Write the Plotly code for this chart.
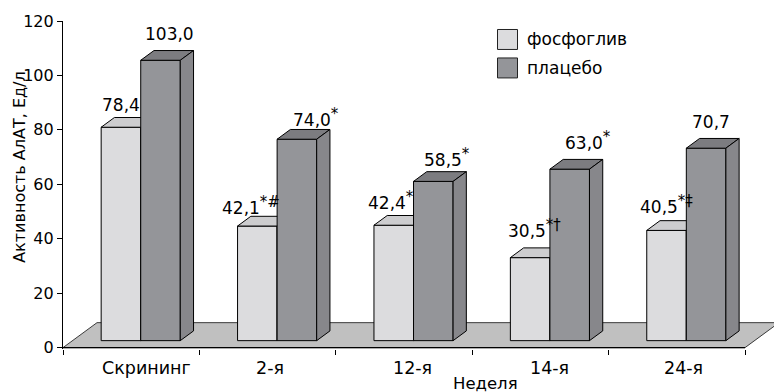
import plotly.graph_objects as go

# ---- data -------------------------------------------------------------
categories = ["Скрининг", "2-я", "12-я", "14-я", "24-я"]
fosfogliv = [78.4, 42.1, 42.4, 30.5, 40.5]
placebo = [103.0, 74.0, 58.5, 63.0, 70.7]
fosfogliv_marks = ["", "*#", "*", "*†", "*‡"]
placebo_marks = ["", "*", "*", "*", ""]
series_names = ["фосфоглив", "плацебо"]
y_ticks = [0, 20, 40, 60, 80, 100, 120]

# ---- styling / 3-D projection ----------------------------------------
FONT = "DejaVu Sans, Arial, sans-serif"
PX_PER_X = 136.4            # pixels per category
PX_PER_Y = 2.725            # pixels per value unit
FLOOR_DX = 34 / PX_PER_X    # full floor depth, x part (axis units)
FLOOR_DY = 25 / PX_PER_Y    # full floor depth, y part (axis units)
Z_FRONT, Z_BACK = 0.28, 0.67  # bar front / back planes as floor-depth fractions
BAR_W = 0.29

LIGHT = dict(front="#dcdcde", top="#cdcdcf", side="#bdbdbf")
DARK = dict(front="#949599", top="#7c7c80", side="#87878b")
FLOOR = "#c0c0c0"

# label nudges in pixels (x, y above the bar's back top edge)
fos_nudge = [(-7, 13), (-13, 11), (-9, 15), (-2, 19), (-7, 16)]
pla_nudge = [(2, 17), (12, 12), (7, 14), (12, 19), (-2, 16)]
cat_nudge = [15, 2, 8, 9, 7]

L, T, B, W, H = 63, 21, 42.6, 774, 392
Y_MIN = -0.5
X_MAX = -0.5 + (W - L) / PX_PER_X


def sx(z):
    return z * FLOOR_DX


def sy(z):
    return z * FLOOR_DY


def faces(x0, x1, v):
    """Front, top and side polygons of one bar of height v."""
    a0, a1 = sx(Z_FRONT), sx(Z_BACK)
    b0, b1 = sy(Z_FRONT), sy(Z_BACK)
    front = ([x0 + a0, x1 + a0, x1 + a0, x0 + a0, x0 + a0],
             [b0, b0, v + b0, v + b0, b0])
    top = ([x0 + a0, x1 + a0, x1 + a1, x0 + a1, x0 + a0],
           [v + b0, v + b0, v + b1, v + b1, v + b0])
    side = ([x1 + a0, x1 + a1, x1 + a1, x1 + a0, x1 + a0],
            [b0, b1, v + b1, v + b0, b0])
    return front, top, side


def join(polys):
    xs, ys = [], []
    for px, py in polys:
        xs += px + [None]
        ys += py + [None]
    return xs, ys


fig = go.Figure()

# floor
n = len(categories)
fig.add_trace(go.Scatter(
    x=[-0.5, n - 0.5, n - 0.5 + FLOOR_DX, -0.5 + FLOOR_DX, -0.5],
    y=[0, 0, FLOOR_DY, FLOOR_DY, 0],
    mode="lines", fill="toself", fillcolor=FLOOR,
    line=dict(color="#3a3a3a", width=1), hoverinfo="skip", showlegend=False))
# x axis line along the floor front edge
fig.add_trace(go.Scatter(x=[-0.5, n - 0.5], y=[0, 0], mode="lines",
                         line=dict(color="black", width=1.2),
                         hoverinfo="skip", showlegend=False))

for values, side_sign, colors in ((fosfogliv, -1, LIGHT), (placebo, 1, DARK)):
    polys = {"front": [], "top": [], "side": []}
    for i, v in enumerate(values):
        x0 = i if side_sign > 0 else i - BAR_W
        f, t, s = faces(x0, x0 + BAR_W, v)
        polys["front"].append(f)
        polys["top"].append(t)
        polys["side"].append(s)
    for key in ("front", "top", "side"):
        xs, ys = join(polys[key])
        fig.add_trace(go.Scatter(
            x=xs, y=ys, mode="lines", fill="toself", fillcolor=colors[key],
            line=dict(color="black", width=1), hoverinfo="skip",
            showlegend=False))

annotations = []


def fmt(v, mark):
    txt = f"{v:.1f}".replace(".", ",")
    if mark:
        txt += f"<sup><span style='font-size:15px'>{mark}</span></sup>"
    return txt


for values, marks, nudge, side_sign in ((fosfogliv, fosfogliv_marks, fos_nudge, -1),
                                        (placebo, placebo_marks, pla_nudge, 1)):
    for i, (v, m) in enumerate(zip(values, marks)):
        x0 = i if side_sign > 0 else i - BAR_W
        xc = x0 + BAR_W / 2 + (sx(Z_FRONT) + sx(Z_BACK)) / 2
        annotations.append(dict(
            x=xc, y=v + sy(Z_BACK), xref="x", yref="y", text=fmt(v, m),
            showarrow=False, xanchor="center", yanchor="middle",
            xshift=nudge[i][0], yshift=nudge[i][1],
            font=dict(family=FONT, size=17, color="black")))

plot_h = H - T - B


def py(pix):
    return (H - B - pix) / plot_h


def pxp(pix):
    return (pix - L) / (W - L)


# category labels below the axis
for i, c in enumerate(categories):
    annotations.append(dict(
        x=i, y=py(368), xref="x", yref="paper", text=c, showarrow=False,
        xanchor="center", yanchor="middle", xshift=cat_nudge[i],
        font=dict(family=FONT, size=17.5, color="black")))

annotations.append(dict(
    x=pxp(485), y=py(384), xref="paper", yref="paper", text="Неделя",
    showarrow=False, xanchor="center", yanchor="middle",
    font=dict(family=FONT, size=16.5, color="black")))
annotations.append(dict(
    x=pxp(20), y=py(167), xref="paper", yref="paper",
    text="Активность АлАТ, Ед/л", textangle=-90, showarrow=False,
    xanchor="center", yanchor="middle",
    font=dict(family=FONT, size=16, color="black")))

# legend
shapes = []
for k, (name, col, yc) in enumerate(((series_names[0], LIGHT["front"], 39.5),
                                     (series_names[1], DARK["front"], 68))):
    shapes.append(dict(type="rect", xref="paper", yref="paper",
                       x0=pxp(497.5), x1=pxp(517.5), y0=py(yc + 10), y1=py(yc - 10),
                       fillcolor=col, line=dict(color="#222", width=1)))
    annotations.append(dict(
        x=pxp(525), y=py(yc), xref="paper", yref="paper", text=name,
        showarrow=False, xanchor="left", yanchor="middle",
        font=dict(family=FONT, size=17, color="black")))

fig.update_layout(
    width=W, height=H,
    margin=dict(l=L, r=0, t=T, b=B, pad=0),
    paper_bgcolor="white", plot_bgcolor="white",
    showlegend=False,
    annotations=annotations, shapes=shapes,
    xaxis=dict(range=[-0.5, X_MAX], showgrid=False, zeroline=False,
               showline=False, tickvals=[i - 0.5 for i in range(n + 1)],
               ticks="outside", ticklen=5, tickwidth=1, tickcolor="black",
               showticklabels=False, fixedrange=True),
    yaxis=dict(range=[Y_MIN, 120], showgrid=False, zeroline=False,
               showline=True, linecolor="black", linewidth=1.2,
               tickvals=y_ticks, ticks="outside", ticklen=5, tickwidth=1,
               tickcolor="black", automargin=False,
               tickfont=dict(family=FONT, size=16, color="black"),
               fixedrange=True),
)

fig.write_html("out.html")
